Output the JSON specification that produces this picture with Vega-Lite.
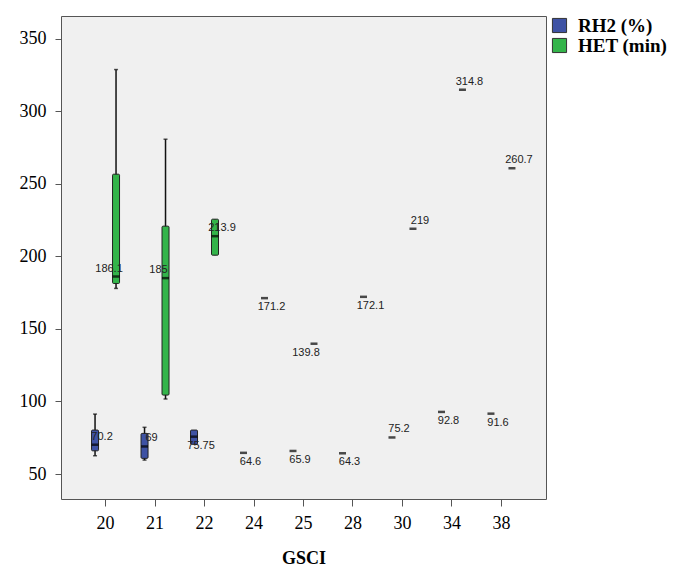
{
  "$schema": "https://vega.github.io/schema/vega-lite/v6.json",
  "width": 485,
  "height": 483,
  "autosize": {"type": "none"},
  "padding": {"left": 61, "top": 16, "right": 143, "bottom": 79},
  "background": "white",
  "config": {
    "view": {"fill": "#f0f0f0", "stroke": "#555555", "strokeWidth": 1},
    "axis": {"grid": false}
  },
  "data": {
    "values": [
      {"GSCI": "20", "series": "RH2 (%)", "min": 62.6, "q1": 66, "median": 70.2, "q3": 80.3, "max": 91.3, "label": "70.2"},
      {"GSCI": "20", "series": "HET (min)", "min": 177.9, "q1": 181.3, "median": 186.1, "q3": 256.6, "max": 328.7, "label": "186.1"},
      {"GSCI": "21", "series": "RH2 (%)", "min": 59.6, "q1": 60.8, "median": 69, "q3": 78, "max": 82.2, "label": "69"},
      {"GSCI": "21", "series": "HET (min)", "min": 101.7, "q1": 104.4, "median": 185, "q3": 220.8, "max": 280.7, "label": "185"},
      {"GSCI": "22", "series": "RH2 (%)", "min": 70.5, "q1": 70.5, "median": 75.75, "q3": 80.3, "max": 80.3, "label": "75.75"},
      {"GSCI": "22", "series": "HET (min)", "min": 200.8, "q1": 200.8, "median": 213.9, "q3": 225.6, "max": 225.6, "label": "213.9"},
      {"GSCI": "24", "series": "RH2 (%)", "min": 64.6, "q1": 64.6, "median": 64.6, "q3": 64.6, "max": 64.6, "label": "64.6"},
      {"GSCI": "24", "series": "HET (min)", "min": 171.2, "q1": 171.2, "median": 171.2, "q3": 171.2, "max": 171.2, "label": "171.2"},
      {"GSCI": "25", "series": "RH2 (%)", "min": 65.9, "q1": 65.9, "median": 65.9, "q3": 65.9, "max": 65.9, "label": "65.9"},
      {"GSCI": "25", "series": "HET (min)", "min": 139.8, "q1": 139.8, "median": 139.8, "q3": 139.8, "max": 139.8, "label": "139.8"},
      {"GSCI": "28", "series": "RH2 (%)", "min": 64.3, "q1": 64.3, "median": 64.3, "q3": 64.3, "max": 64.3, "label": "64.3"},
      {"GSCI": "28", "series": "HET (min)", "min": 172.1, "q1": 172.1, "median": 172.1, "q3": 172.1, "max": 172.1, "label": "172.1"},
      {"GSCI": "30", "series": "RH2 (%)", "min": 75.2, "q1": 75.2, "median": 75.2, "q3": 75.2, "max": 75.2, "label": "75.2"},
      {"GSCI": "30", "series": "HET (min)", "min": 219, "q1": 219, "median": 219, "q3": 219, "max": 219, "label": "219"},
      {"GSCI": "34", "series": "RH2 (%)", "min": 92.8, "q1": 92.8, "median": 92.8, "q3": 92.8, "max": 92.8, "label": "92.8"},
      {"GSCI": "34", "series": "HET (min)", "min": 314.8, "q1": 314.8, "median": 314.8, "q3": 314.8, "max": 314.8, "label": "314.8"},
      {"GSCI": "38", "series": "RH2 (%)", "min": 91.6, "q1": 91.6, "median": 91.6, "q3": 91.6, "max": 91.6, "label": "91.6"},
      {"GSCI": "38", "series": "HET (min)", "min": 260.7, "q1": 260.7, "median": 260.7, "q3": 260.7, "max": 260.7, "label": "260.7"}
    ]
  },
  "encoding": {
    "x": {
      "field": "GSCI",
      "type": "nominal",
      "sort": ["20", "21", "22", "24", "25", "28", "30", "34", "38"],
      "scale": {"paddingInner": 0, "paddingOuter": 0.4},
      "axis": {
        "title": "GSCI",
        "labelAngle": 0,
        "domain": false,
        "tickColor": "#555555",
        "tickSize": 7,
        "labelPadding": 8,
        "labelFont": "Liberation Serif",
        "labelFontSize": 18,
        "labelColor": "#000000",
        "titleFont": "Liberation Serif",
        "titleFontSize": 18,
        "titleFontWeight": "bold",
        "titleColor": "#000000",
        "titlePadding": 17
      }
    },
    "xOffset": {
      "field": "series",
      "type": "nominal",
      "scale": {"domain": ["RH2 (%)", "HET (min)"], "paddingInner": 0, "paddingOuter": 0.179}
    }
  },
  "layer": [
    {
      "transform": [{"filter": "datum.max > datum.min"}],
      "mark": {"type": "rule", "color": "#111111", "strokeWidth": 1.5},
      "encoding": {
        "y": {
          "field": "min",
          "type": "quantitative",
          "scale": {"domain": [32.8, 365.6], "nice": false, "zero": false},
          "axis": {
            "title": null,
            "values": [50, 100, 150, 200, 250, 300, 350],
            "domain": false,
            "tickColor": "#555555",
            "tickSize": 6,
            "labelPadding": 9,
            "labelFont": "Liberation Serif",
            "labelFontSize": 18,
            "labelColor": "#000000"
          }
        },
        "y2": {"field": "max"}
      }
    },
    {
      "transform": [{"filter": "datum.max > datum.q3"}],
      "mark": {"type": "tick", "color": "#111111", "size": 4, "thickness": 1.5},
      "encoding": {"y": {"field": "max", "type": "quantitative"}}
    },
    {
      "transform": [{"filter": "datum.min < datum.q1"}],
      "mark": {"type": "tick", "color": "#111111", "size": 4, "thickness": 1.5},
      "encoding": {"y": {"field": "min", "type": "quantitative"}}
    },
    {
      "transform": [{"filter": "datum.q3 > datum.q1"}],
      "mark": {"type": "bar", "width": 7, "stroke": "#222222", "strokeWidth": 1, "cornerRadius": 1},
      "encoding": {
        "y": {"field": "q1", "type": "quantitative"},
        "y2": {"field": "q3"},
        "color": {
          "field": "series",
          "type": "nominal",
          "scale": {"domain": ["RH2 (%)", "HET (min)"], "range": ["#3e52a4", "#33b44a"]},
          "legend": {
            "title": null,
            "orient": "none",
            "legendX": 489,
            "legendY": 0,
            "symbolType": "square",
            "symbolSize": 200,
            "symbolStrokeColor": "#333333",
            "symbolStrokeWidth": 1,
            "labelFont": "Liberation Serif",
            "labelFontWeight": "bold",
            "labelFontSize": 19,
            "labelColor": "#000000",
            "labelOffset": 9,
            "rowPadding": 0
          }
        }
      }
    },
    {
      "mark": {"type": "tick", "color": "#000000", "size": 7, "thickness": 2.5},
      "encoding": {"y": {"field": "median", "type": "quantitative"}}
    },
    {
      "transform": [{"filter": "indexof(['22|HET (min)', '20|RH2 (%)', '21|RH2 (%)', '30|RH2 (%)', '30|HET (min)', '34|HET (min)', '38|HET (min)'], datum.GSCI + '|' + datum.series) >= 0"}],
      "mark": {"type": "text", "font": "Liberation Sans", "fontSize": 11, "color": "#222222", "dx": 7, "dy": -8},
      "encoding": {"y": {"field": "median", "type": "quantitative"}, "text": {"field": "label"}}
    },
    {
      "transform": [{"filter": "indexof(['20|HET (min)', '21|HET (min)'], datum.GSCI + '|' + datum.series) >= 0"}],
      "mark": {"type": "text", "font": "Liberation Sans", "fontSize": 11, "color": "#222222", "dx": -7, "dy": -8},
      "encoding": {"y": {"field": "median", "type": "quantitative"}, "text": {"field": "label"}}
    },
    {
      "transform": [{"filter": "indexof(['22|RH2 (%)', '24|RH2 (%)', '24|HET (min)', '25|RH2 (%)', '28|RH2 (%)', '28|HET (min)', '34|RH2 (%)', '38|RH2 (%)'], datum.GSCI + '|' + datum.series) >= 0"}],
      "mark": {"type": "text", "font": "Liberation Sans", "fontSize": 11, "color": "#222222", "dx": 7, "dy": 9},
      "encoding": {"y": {"field": "median", "type": "quantitative"}, "text": {"field": "label"}}
    },
    {
      "transform": [{"filter": "datum.GSCI == '25' && datum.series == 'HET (min)'"}],
      "mark": {"type": "text", "font": "Liberation Sans", "fontSize": 11, "color": "#222222", "dx": -8, "dy": 9},
      "encoding": {"y": {"field": "median", "type": "quantitative"}, "text": {"field": "label"}}
    }
  ]
}
